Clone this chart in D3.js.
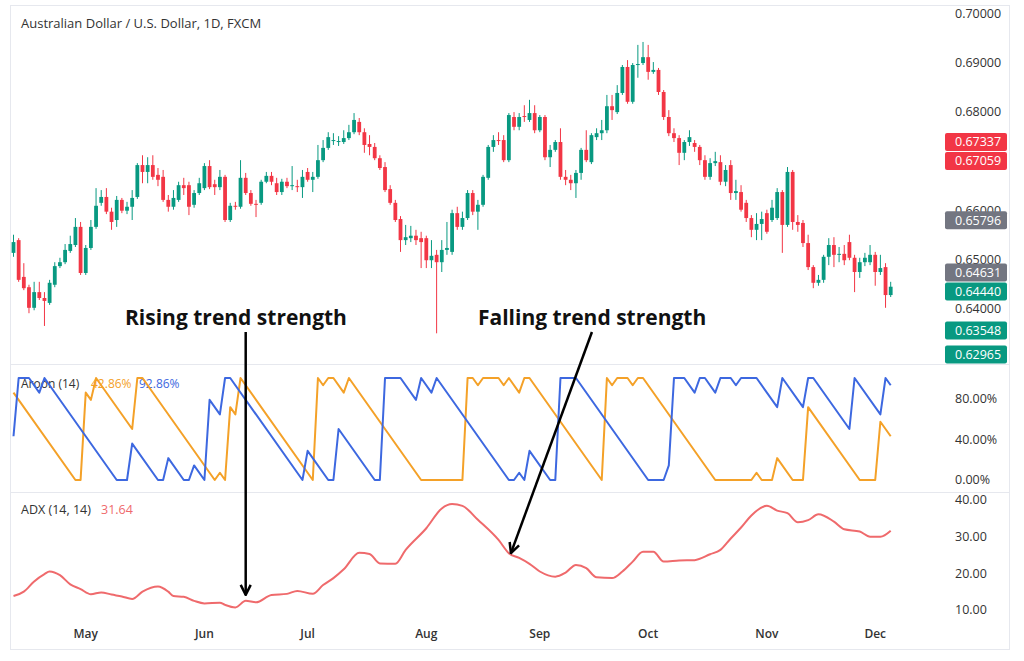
<!DOCTYPE html>
<html>
<head>
<meta charset="utf-8">
<script src="https://cdn.jsdelivr.net/npm/d3@7"></script>
<style>
  body { margin: 0; background: #fff; }
  svg { display: block; font-family: "Open Sans", sans-serif; }
</style>
</head>
<body>
<div id="chart"></div>
<script>
// AUD/USD daily, bar 0 = 11 Apr 2024 ... bar 170 = 5 Dec 2024
const open = [
  0.6513, 0.6539, 0.6464, 0.6443, 0.6401, 0.6433, 0.6421, 0.6411, 0.6448, 0.6486,
  0.6494, 0.6517, 0.6529, 0.6566, 0.6472, 0.6523, 0.6566, 0.6615, 0.6627, 0.6597,
  0.6580, 0.6621, 0.6599, 0.6607, 0.6627, 0.6692, 0.6678, 0.6692, 0.6672, 0.6668,
  0.6621, 0.6607, 0.6621, 0.6651, 0.6651, 0.6611, 0.6635, 0.6645, 0.6690, 0.6653,
  0.6647, 0.6668, 0.6580, 0.6609, 0.6607, 0.6666, 0.6635, 0.6613, 0.6615, 0.6658,
  0.6670, 0.6655, 0.6637, 0.6658, 0.6649, 0.6649, 0.6647, 0.6678, 0.6662, 0.6668,
  0.6702, 0.6727, 0.6741, 0.6739, 0.6739, 0.6747, 0.6759, 0.6780, 0.6759, 0.6735,
  0.6729, 0.6706, 0.6688, 0.6643, 0.6615, 0.6582, 0.6539, 0.6543, 0.6548, 0.6543,
  0.6543, 0.6498, 0.6509, 0.6494, 0.6519, 0.6515, 0.6594, 0.6566, 0.6584, 0.6635,
  0.6597, 0.6611, 0.6666, 0.6729, 0.6743, 0.6743, 0.6702, 0.6790, 0.6770, 0.6792,
  0.6784, 0.6798, 0.6763, 0.6790, 0.6708, 0.6723, 0.6739, 0.6668, 0.6662, 0.6655,
  0.6676, 0.6723, 0.6698, 0.6749, 0.6757, 0.6763, 0.6812, 0.6800, 0.6839, 0.6892,
  0.6821, 0.6896, 0.6900, 0.6912, 0.6882, 0.6886, 0.6841, 0.6790, 0.6757, 0.6747,
  0.6717, 0.6739, 0.6737, 0.6729, 0.6702, 0.6668, 0.6696, 0.6698, 0.6658, 0.6692,
  0.6635, 0.6637, 0.6615, 0.6584, 0.6560, 0.6572, 0.6594, 0.6580, 0.6584, 0.6637,
  0.6570, 0.6678, 0.6576, 0.6574, 0.6533, 0.6484, 0.6452, 0.6458, 0.6505, 0.6529,
  0.6509, 0.6511, 0.6535, 0.6503, 0.6474, 0.6494, 0.6494, 0.6509, 0.6474, 0.6484,
  0.6427
];
const high = [
  0.6550, 0.6543, 0.6492, 0.6448, 0.6454, 0.6454, 0.6433, 0.6458, 0.6494, 0.6503,
  0.6531, 0.6548, 0.6584, 0.6576, 0.6529, 0.6580, 0.6645, 0.6641, 0.6645, 0.6605,
  0.6629, 0.6625, 0.6617, 0.6641, 0.6696, 0.6712, 0.6708, 0.6712, 0.6686, 0.6682,
  0.6631, 0.6641, 0.6658, 0.6666, 0.6658, 0.6641, 0.6666, 0.6696, 0.6702, 0.6662,
  0.6682, 0.6672, 0.6615, 0.6617, 0.6702, 0.6676, 0.6641, 0.6621, 0.6662, 0.6678,
  0.6678, 0.6666, 0.6664, 0.6666, 0.6690, 0.6662, 0.6682, 0.6686, 0.6678, 0.6733,
  0.6743, 0.6759, 0.6757, 0.6751, 0.6763, 0.6774, 0.6798, 0.6788, 0.6767, 0.6753,
  0.6737, 0.6712, 0.6698, 0.6651, 0.6621, 0.6588, 0.6570, 0.6568, 0.6560, 0.6556,
  0.6548, 0.6539, 0.6519, 0.6539, 0.6576, 0.6601, 0.6607, 0.6597, 0.6641, 0.6641,
  0.6621, 0.6672, 0.6733, 0.6753, 0.6759, 0.6753, 0.6798, 0.6800, 0.6798, 0.6814,
  0.6825, 0.6814, 0.6794, 0.6794, 0.6733, 0.6743, 0.6767, 0.6682, 0.6672, 0.6682,
  0.6727, 0.6763, 0.6757, 0.6767, 0.6784, 0.6835, 0.6835, 0.6855, 0.6896, 0.6906,
  0.6900, 0.6937, 0.6943, 0.6937, 0.6902, 0.6890, 0.6845, 0.6804, 0.6767, 0.6753,
  0.6743, 0.6763, 0.6743, 0.6733, 0.6712, 0.6706, 0.6719, 0.6712, 0.6692, 0.6702,
  0.6662, 0.6651, 0.6621, 0.6590, 0.6594, 0.6597, 0.6601, 0.6621, 0.6645, 0.6641,
  0.6688, 0.6682, 0.6590, 0.6580, 0.6550, 0.6488, 0.6468, 0.6509, 0.6543, 0.6545,
  0.6525, 0.6529, 0.6550, 0.6509, 0.6503, 0.6513, 0.6529, 0.6515, 0.6509, 0.6492,
  0.6454
];
const low = [
  0.6505, 0.6454, 0.6437, 0.6390, 0.6396, 0.6417, 0.6364, 0.6407, 0.6443, 0.6482,
  0.6490, 0.6513, 0.6525, 0.6468, 0.6468, 0.6519, 0.6562, 0.6609, 0.6592, 0.6560,
  0.6566, 0.6594, 0.6592, 0.6580, 0.6623, 0.6655, 0.6655, 0.6662, 0.6649, 0.6617,
  0.6597, 0.6601, 0.6617, 0.6631, 0.6590, 0.6605, 0.6631, 0.6641, 0.6643, 0.6631,
  0.6641, 0.6576, 0.6576, 0.6601, 0.6603, 0.6631, 0.6609, 0.6586, 0.6611, 0.6655,
  0.6651, 0.6631, 0.6631, 0.6645, 0.6641, 0.6637, 0.6625, 0.6658, 0.6637, 0.6664,
  0.6698, 0.6723, 0.6733, 0.6731, 0.6735, 0.6743, 0.6755, 0.6753, 0.6717, 0.6712,
  0.6702, 0.6682, 0.6637, 0.6611, 0.6576, 0.6515, 0.6529, 0.6535, 0.6529, 0.6482,
  0.6482, 0.6482, 0.6349, 0.6474, 0.6509, 0.6509, 0.6560, 0.6560, 0.6580, 0.6590,
  0.6560, 0.6607, 0.6662, 0.6719, 0.6733, 0.6698, 0.6698, 0.6763, 0.6763, 0.6780,
  0.6780, 0.6757, 0.6759, 0.6702, 0.6688, 0.6719, 0.6662, 0.6651, 0.6641, 0.6625,
  0.6662, 0.6698, 0.6694, 0.6743, 0.6743, 0.6757, 0.6784, 0.6796, 0.6835, 0.6817,
  0.6817, 0.6870, 0.6896, 0.6866, 0.6878, 0.6835, 0.6784, 0.6751, 0.6739, 0.6692,
  0.6702, 0.6731, 0.6719, 0.6692, 0.6662, 0.6662, 0.6690, 0.6651, 0.6649, 0.6621,
  0.6621, 0.6597, 0.6576, 0.6545, 0.6539, 0.6539, 0.6552, 0.6576, 0.6580, 0.6513,
  0.6566, 0.6560, 0.6556, 0.6525, 0.6478, 0.6441, 0.6446, 0.6452, 0.6488, 0.6484,
  0.6494, 0.6488, 0.6498, 0.6433, 0.6462, 0.6486, 0.6488, 0.6446, 0.6468, 0.6401,
  0.6423
];
const close = [
  0.6535, 0.6458, 0.6441, 0.6401, 0.6433, 0.6421, 0.6415, 0.6452, 0.6486, 0.6494,
  0.6519, 0.6531, 0.6566, 0.6472, 0.6523, 0.6566, 0.6609, 0.6627, 0.6597, 0.6576,
  0.6621, 0.6599, 0.6607, 0.6625, 0.6692, 0.6678, 0.6692, 0.6668, 0.6662, 0.6621,
  0.6607, 0.6625, 0.6651, 0.6645, 0.6607, 0.6635, 0.6655, 0.6690, 0.6647, 0.6647,
  0.6668, 0.6580, 0.6609, 0.6607, 0.6666, 0.6635, 0.6613, 0.6611, 0.6658, 0.6670,
  0.6658, 0.6637, 0.6658, 0.6649, 0.6651, 0.6647, 0.6668, 0.6662, 0.6668, 0.6702,
  0.6727, 0.6749, 0.6743, 0.6741, 0.6747, 0.6759, 0.6784, 0.6759, 0.6733, 0.6729,
  0.6706, 0.6686, 0.6641, 0.6615, 0.6580, 0.6539, 0.6545, 0.6548, 0.6539, 0.6535,
  0.6498, 0.6507, 0.6494, 0.6519, 0.6523, 0.6594, 0.6566, 0.6584, 0.6635, 0.6597,
  0.6611, 0.6668, 0.6729, 0.6743, 0.6741, 0.6702, 0.6794, 0.6770, 0.6790, 0.6790,
  0.6798, 0.6763, 0.6790, 0.6708, 0.6723, 0.6739, 0.6668, 0.6662, 0.6655, 0.6676,
  0.6723, 0.6702, 0.6753, 0.6757, 0.6763, 0.6812, 0.6804, 0.6839, 0.6892, 0.6821,
  0.6896, 0.6898, 0.6912, 0.6882, 0.6886, 0.6841, 0.6790, 0.6757, 0.6747, 0.6717,
  0.6739, 0.6749, 0.6729, 0.6702, 0.6668, 0.6696, 0.6700, 0.6658, 0.6682, 0.6635,
  0.6639, 0.6601, 0.6584, 0.6560, 0.6572, 0.6582, 0.6556, 0.6605, 0.6637, 0.6570,
  0.6678, 0.6576, 0.6570, 0.6533, 0.6484, 0.6452, 0.6458, 0.6505, 0.6529, 0.6509,
  0.6511, 0.6498, 0.6503, 0.6474, 0.6494, 0.6503, 0.6509, 0.6474, 0.6482, 0.6427,
  0.6444
];

// Aroon (14) vertices: [bar, value %]
const aroonUp = [[0,85.71],[12,0],[13,0],[14,85.71],[15,78.57],[16,100],[23,50],[24,100],[25,100],
  [39,0],[40,7.14],[41,0],[42,71.43],[43,64.29],[44,100],[58,0],[59,100],[60,92.86],[61,100],[62,100],
  [64,85.71],[65,100],[79,0],[87,0],[88,100],[89,100],[90,92.86],[91,100],[94,100],[95,92.86],[96,100],
  [98,85.71],[99,100],[100,100],[114,0],[115,100],[116,92.86],[117,100],[119,100],[120,92.86],[121,100],
  [122,100],[136,0],[143,0],[144,7.14],[145,0],[147,0],[148,21.43],[151,0],[153,0],[154,71.43],[164,0],
  [167,0],[168,57.14],[170,42.86]];
const aroonDown = [[0,42.86],[1,100],[3,100],[5,85.71],[6,100],[20,0],[22,0],[23,35.71],[28,0],[29,0],
  [30,21.43],[33,0],[34,0],[35,14.29],[37,0],[38,78.57],[40,64.29],[41,100],[42,100],[56,0],[57,28.57],
  [61,0],[62,0],[63,50],[70,0],[71,0],[72,100],[75,100],[78,78.57],[79,100],[81,85.71],[82,100],[96,0],
  [97,0],[98,7.14],[99,0],[100,28.57],[104,0],[105,0],[106,100],[109,100],[123,0],[126,0],[127,14.29],
  [128,100],[130,100],[132,85.71],[133,100],[134,100],[136,85.71],[137,100],[139,100],[140,92.86],
  [141,100],[144,100],[148,71.43],[149,100],[153,71.43],[154,100],[155,100],[162,50],[163,100],
  [168,64.29],[169,100],[170,92.86]];

// ADX (14, 14) vertices: [bar, value]
const adx = [[0,13.8],[2,15.0],[4,17.8],[6,19.8],[7,20.5],[9,19.5],[11,17.0],[13,15.7],[15,14.3],
  [17,14.8],[19,14.2],[21,13.7],[23,13.0],[25,15.0],[28,16.4],[30,15.0],[31,13.8],[33,13.6],[35,12.5],
  [37,11.8],[40,12.0],[41,11.4],[43,10.7],[45,12.5],[47,12.1],[50,14.1],[53,14.4],[55,15.2],[58,14.4],
  [60,16.8],[62,18.7],[64,21.1],[67,25.6],[69,25.3],[71,22.7],[74,22.6],[76,26.4],[80,32.3],[83,37.7],
  [85,38.9],[87,38.4],[90,34.6],[94,29.1],[96,25.5],[98,24.2],[100,22.6],[102,20.5],[105,19.1],
  [107,20.2],[109,22.3],[111,21.4],[113,18.9],[116,18.7],[118,20.5],[120,23.2],[122,25.9],[124,25.9],
  [126,23.2],[129,23.5],[132,23.6],[135,25.2],[137,26.4],[139,29.5],[141,32.5],[143,35.8],[146,38.4],
  [148,37.1],[150,36.4],[152,33.9],[154,34.5],[156,36.1],[159,34.1],[161,32.0],[164,31.4],[166,30.0],
  [168,30.0],[170,31.64]];

const monthLabels = ["May", "Jun", "Jul", "Aug", "Sep", "Oct", "Nov", "Dec"];
const monthStartBar = [14, 37, 57, 80, 102, 123, 146, 167];

const priceTicks = [0.64, 0.65, 0.66, 0.67, 0.68, 0.69, 0.70];
const tagValues = [0.67337, 0.67059, 0.65796, 0.64631, 0.64440, 0.63548, 0.62965];
const tagKinds = ["red", "red", "gray", "gray", "green", "green", "green"];
const aroonTicks = [0, 40, 80];
const adxTicks = [10, 20, 30, 40];

const width = 1024, height = 661;
const green = "#089981", red = "#f23645", grayTag = "#737681";
const upColor = "#f4a128", downColor = "#3d68e0", adxColor = "#ef6a6c";
const tagFill = { red: red, gray: grayTag, green: green };

const svg = d3.select("#chart").append("svg")
  .attr("width", width)
  .attr("height", height);

const x = d3.scaleLinear().domain([0, 170]).range([13.5, 890.7]);
const yPrice = d3.scaleLinear().domain([0.64, 0.70]).range([308.3, 14]);
const yAroon = d3.scaleLinear().domain([0, 100]).range([480, 378]);
const yAdx = d3.scaleLinear().domain([10, 40]).range([610, 500]);

// frame and panel separators
svg.append("rect")
  .attr("x", 10.5).attr("y", 5.5).attr("width", 999).attr("height", 644)
  .attr("fill", "none").attr("stroke", "#e6e8ee");
[364.5, 492.5].forEach(yy => {
  svg.append("line")
    .attr("x1", 10).attr("x2", 1010).attr("y1", yy).attr("y2", yy)
    .attr("stroke", "#e6e8ee");
});

// title
svg.append("text")
  .attr("x", 21).attr("y", 28)
  .style("font-size", "13px").attr("fill", "#333")
  .text("Australian Dollar / U.S. Dollar, 1D, FXCM");

// candles
const candles = close.map((c, i) => ({ i, o: open[i], h: high[i], l: low[i], c }));
const cg = svg.append("g");
cg.selectAll("line")
  .data(candles)
  .join("line")
  .attr("x1", d => x(d.i)).attr("x2", d => x(d.i))
  .attr("y1", d => yPrice(d.h)).attr("y2", d => yPrice(d.l))
  .attr("stroke", d => d.c >= d.o ? green : red)
  .attr("stroke-width", 1);
cg.selectAll("rect")
  .data(candles)
  .join("rect")
  .attr("x", d => x(d.i) - 1.9)
  .attr("width", 3.8)
  .attr("y", d => yPrice(Math.max(d.o, d.c)))
  .attr("height", d => Math.max(1, Math.abs(yPrice(d.o) - yPrice(d.c))))
  .attr("fill", d => d.c >= d.o ? green : red);

// price axis
svg.append("g").selectAll("text")
  .data(priceTicks)
  .join("text")
  .attr("x", 955).attr("y", d => yPrice(d))
  .attr("dy", "0.35em")
  .style("font-size", "12.5px").attr("fill", "#333")
  .text(d => d3.format(".5f")(d));

// price tags with simple overlap relaxation
const tags = tagValues.map((v, i) => ({ v, kind: tagKinds[i], y: yPrice(v) }));
for (let k = 0; k < 30; k++) {
  for (let i = 1; i < tags.length; i++) {
    const gap = tags[i].y - tags[i - 1].y;
    if (gap < 19) {
      const d = (19 - gap) / 2;
      tags[i - 1].y -= d;
      tags[i].y += d;
    }
  }
  tags.forEach(t => { t.y = Math.min(t.y, 354.5); });
}
const tg = svg.append("g").selectAll("g")
  .data(tags)
  .join("g")
  .attr("transform", d => `translate(945,${d.y})`);
tg.append("rect")
  .attr("x", 0).attr("y", -9).attr("width", 62).attr("height", 18).attr("rx", 2)
  .attr("fill", d => tagFill[d.kind]);
tg.append("text")
  .attr("x", 10).attr("dy", "0.35em")
  .style("font-size", "12.5px").attr("fill", "#fff")
  .text(d => d3.format(".5f")(d.v));

// Aroon panel
const ag = svg.append("g");
ag.append("text").attr("x", 21).attr("y", 388)
  .style("font-size", "12px").attr("fill", "#333").text("Aroon (14)");
ag.append("text").attr("x", 91).attr("y", 388)
  .style("font-size", "12px").attr("fill", upColor)
  .text(d3.format(".2f")(aroonUp[aroonUp.length - 1][1]) + "%");
ag.append("text").attr("x", 139).attr("y", 388)
  .style("font-size", "12px").attr("fill", downColor)
  .text(d3.format(".2f")(aroonDown[aroonDown.length - 1][1]) + "%");

const lineA = d3.line().x(d => x(d[0])).y(d => yAroon(d[1]));
ag.append("path").datum(aroonUp)
  .attr("d", lineA).attr("fill", "none")
  .attr("stroke", upColor).attr("stroke-width", 2).attr("stroke-linejoin", "round");
ag.append("path").datum(aroonDown)
  .attr("d", lineA).attr("fill", "none")
  .attr("stroke", downColor).attr("stroke-width", 2).attr("stroke-linejoin", "round");
ag.selectAll("text.tick")
  .data(aroonTicks)
  .join("text")
  .attr("class", "tick")
  .attr("x", 955).attr("y", d => yAroon(d)).attr("dy", "0.35em")
  .style("font-size", "12.5px").attr("fill", "#333")
  .text(d => d3.format(".2f")(d) + "%");

// ADX panel
const dg = svg.append("g");
dg.append("text").attr("x", 21).attr("y", 514)
  .style("font-size", "12.5px").attr("fill", "#333").text("ADX (14, 14)");
dg.append("text").attr("x", 101).attr("y", 514)
  .style("font-size", "12.5px").attr("fill", adxColor)
  .text(d3.format(".2f")(adx[adx.length - 1][1]));
dg.append("path").datum(adx)
  .attr("d", d3.line().x(d => x(d[0])).y(d => yAdx(d[1])).curve(d3.curveMonotoneX))
  .attr("fill", "none").attr("stroke", adxColor).attr("stroke-width", 2);
dg.selectAll("text.tick")
  .data(adxTicks)
  .join("text")
  .attr("class", "tick")
  .attr("x", 955).attr("y", d => yAdx(d)).attr("dy", "0.35em")
  .style("font-size", "12.5px").attr("fill", "#333")
  .text(d => d3.format(".2f")(d));

// time axis
svg.append("g").selectAll("text")
  .data(monthLabels)
  .join("text")
  .attr("x", (d, i) => x(monthStartBar[i])).attr("y", 638)
  .attr("text-anchor", "middle")
  .style("font-size", "12px").style("font-weight", "600").attr("fill", "#333")
  .text(d => d);

// annotations
const defs = svg.append("defs");
defs.append("marker")
  .attr("id", "arrow")
  .attr("viewBox", "0 0 10 10")
  .attr("refX", 9).attr("refY", 5)
  .attr("markerWidth", 5).attr("markerHeight", 5)
  .attr("orient", "auto")
  .append("path")
  .attr("d", "M1,1 L9,5 L1,9")
  .attr("fill", "none").attr("stroke", "#000").attr("stroke-width", 2);

const notes = [
  { text: "Rising trend strength", tx: 125, fromBar: 45, toBar: 45, offset: 6 },
  { text: "Falling trend strength", tx: 478, fromBar: 112.1, toBar: 96.4, offset: 1 }
];
const adxAt = b => {
  const j = adx.findIndex(p => p[0] >= b);
  const a = adx[Math.max(0, j - 1)], c = adx[j];
  return a[1] + (c[1] - a[1]) * ((b - a[0]) / ((c[0] - a[0]) || 1));
};
notes.forEach(n => {
  svg.append("text")
    .attr("x", n.tx).attr("y", 325)
    .style("font-size", "21px").style("font-weight", "700").attr("fill", "#111")
    .text(n.text);
  svg.append("line")
    .attr("x1", x(n.fromBar)).attr("y1", 332)
    .attr("x2", x(n.toBar)).attr("y2", yAdx(adxAt(n.toBar)) - n.offset)
    .attr("stroke", "#000").attr("stroke-width", 2.5)
    .attr("marker-end", "url(#arrow)");
});
</script>
</body>
</html>
